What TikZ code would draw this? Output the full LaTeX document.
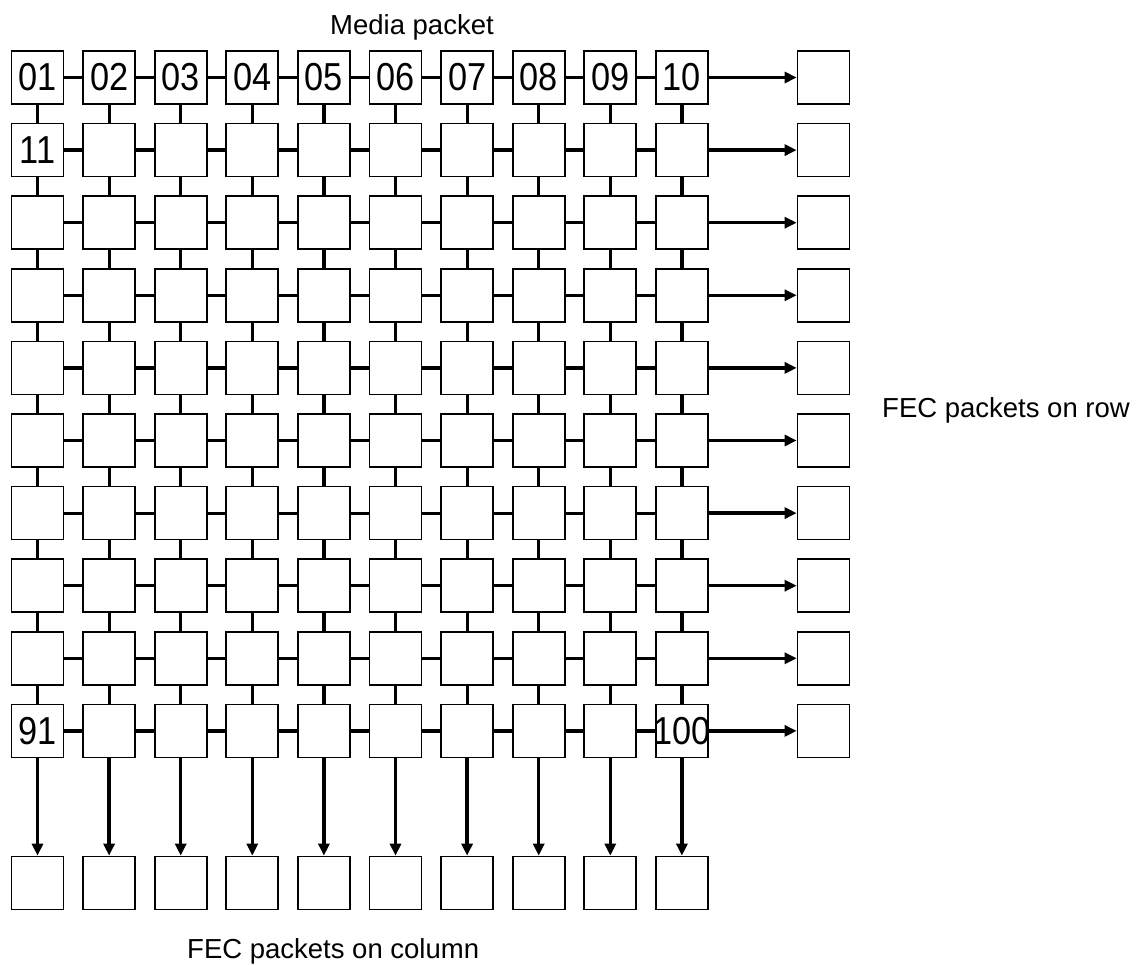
\documentclass[tikz,border=0pt]{standalone}
\usepackage{fontspec}
\setmainfont{Liberation Sans}
\usetikzlibrary{arrows.meta}
\newcommand{\pnum}[1]{\scalebox{0.88}[1]{\fontsize{39}{39}\selectfont #1}}
\begin{document}
\begin{tikzpicture}[x=1pt,y=-1pt,
  pkt/.style={draw, line width=1.7pt, minimum width=52pt, minimum height=53pt, inner sep=0pt},
  num/.style={inner sep=0pt},
  link/.style={line width=3.2pt},
  flow/.style={line width=3.4pt, -{Triangle[length=12pt,width=11pt]}},
  lbl/.style={font=\fontsize{27.5}{27.5}\selectfont, inner sep=0pt}]
\useasboundingbox (0,0) rectangle (1137,965);
\fill[white] (0,0) rectangle (1137,965);
% grid of media packets
\foreach \r in {1,...,10}{
  \foreach \c in {1,...,10}{
    \pgfmathsetmacro{\xx}{37.5+71.6*(\c-1)}
    \pgfmathsetmacro{\yy}{77.5+72.6*(\r-1)}
    \node[pkt] (b-\r-\c) at (\xx,\yy) {};
  }
}
% FEC row boxes and column boxes
\foreach \r in {1,...,10}{
  \pgfmathsetmacro{\yy}{77.5+72.6*(\r-1)}
  \node[pkt] (rf-\r) at (823.5,\yy) {};
}
\foreach \c in {1,...,10}{
  \pgfmathsetmacro{\xx}{37.5+71.6*(\c-1)}
  \node[pkt] (cf-\c) at (\xx,883) {};
}
% horizontal links
\foreach \r in {1,...,10}{
  \foreach \c [evaluate=\c as \n using int(\c+1)] in {1,...,9}{
    \draw[link] (b-\r-\c.east) -- (b-\r-\n.west);
  }
  \draw[flow] (b-\r-10.east) -- (rf-\r.west);
}
% vertical links
\foreach \c in {1,...,10}{
  \foreach \r [evaluate=\r as \n using int(\r+1)] in {1,...,9}{
    \draw[link] (b-\r-\c.south) -- (b-\n-\c.north);
  }
  \draw[flow] (b-10-\c.south) -- (cf-\c.north);
}
% packet numbers
\node[num] (n01) at (b-1-1) {\pnum{01}};
\node[num] (n02) at (b-1-2) {\pnum{02}};
\node[num] (n03) at (b-1-3) {\pnum{03}};
\node[num] (n04) at (b-1-4) {\pnum{04}};
\node[num] (n05) at (b-1-5) {\pnum{05}};
\node[num] (n06) at (b-1-6) {\pnum{06}};
\node[num] (n07) at (b-1-7) {\pnum{07}};
\node[num] (n08) at (b-1-8) {\pnum{08}};
\node[num] (n09) at (b-1-9) {\pnum{09}};
\node[num] (n10) at (b-1-10) {\pnum{10}};
\node[num] (n11) at (b-2-1) {\pnum{11}};
\node[num] (n91) at (b-10-1) {\pnum{91}};
\node[num] (n100) at (b-10-10) {\pnum{100}};
% text labels
\node[lbl, anchor=base west] (media) at (330,35) {Media packet};
\node[lbl, anchor=base west] (rowlbl) at (882,417) {FEC packets on row};
\node[lbl, anchor=base west] (collbl) at (187,958) {FEC packets on column};
\end{tikzpicture}
\end{document}
